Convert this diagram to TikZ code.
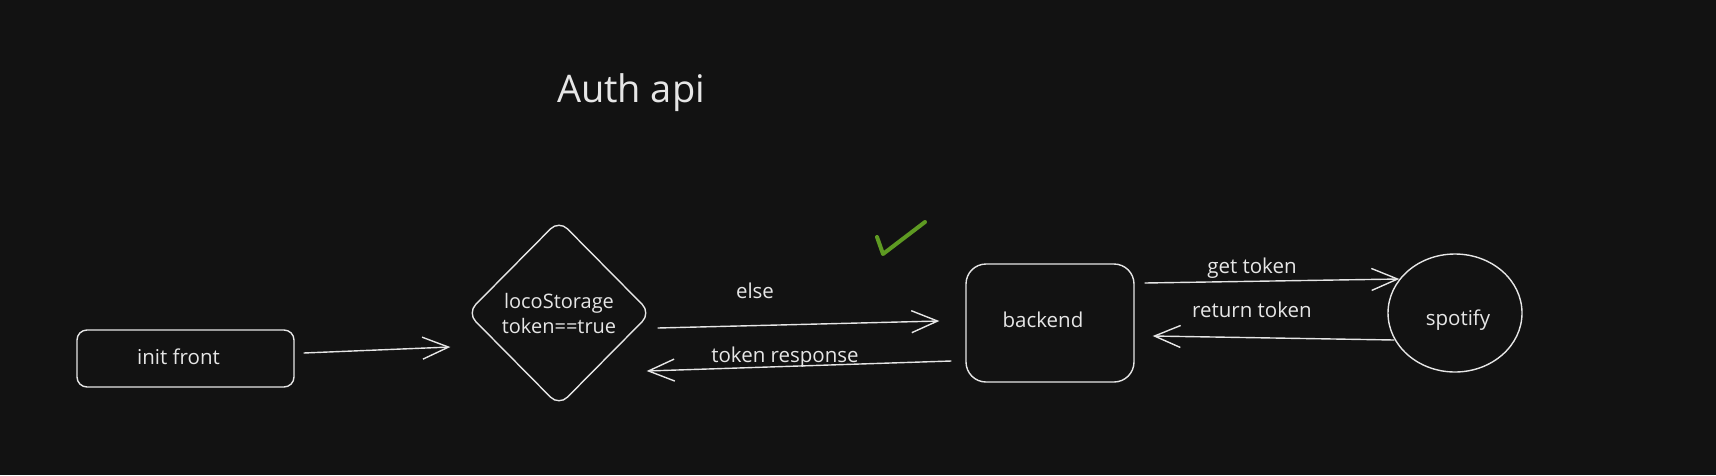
\documentclass[tikz,border=0pt]{standalone}
\usepackage{fontspec}
\setmainfont{Open Sans}
\usetikzlibrary{arrows.meta,shapes.geometric,calc}
\definecolor{bg}{HTML}{121212}
\definecolor{ink}{HTML}{E6E6E6}
\definecolor{tick}{HTML}{5E9A22}
\tikzset{
  boxnode/.style={draw=ink, line width=1.4pt, inner sep=0pt},
  lbl/.style={text=ink, font=\fontsize{20.5}{24}\selectfont, inner sep=0pt},
  arr/.style={draw=ink, line width=1.4pt, -{Straight Barb[length=26pt,width=22pt,line width=1.4pt]}},
}
\begin{document}
\begin{tikzpicture}[x=1pt,y=-1pt]
\fill[bg] (0,0) rectangle (1716,475);
\useasboundingbox (0,0) rectangle (1716,475);

\node[lbl, font=\fontsize{38}{44}\selectfont] (title) at (631,93) {Auth api};

\node[boxnode, rectangle, rounded corners=10pt, minimum width=217pt, minimum height=57pt] (init) at (185.5,358.5) {};
\node[lbl] (inittxt) at (178.5,357) {init front};
\node[boxnode, diamond, rounded corners=12pt, minimum width=184pt, minimum height=186pt] (dec) at (559,313) {};
\node[lbl, align=center, font=\fontsize{20}{25}\selectfont] (dectxt) at (559,313) {locoStorage\\token==true};
\node[boxnode, rectangle, rounded corners=20pt, minimum width=168pt, minimum height=118pt] (back) at (1050,323) {};
\node[lbl] (backtxt) at (1043,320) {backend};
\node[boxnode, ellipse, minimum width=134pt, minimum height=118pt] (spot) at (1455,313) {};
\node[lbl] (spottxt) at (1458,320) {spotify};

\draw[arr] ($(init.east)+(9,-5.5)$) -- ($(dec.west)+(-16,34)$);
\draw[arr] ($(dec.east)+(6,15)$) -- ($(back.west)+(-26,-2)$);
\draw[arr] ($(back.west)+(-14,38)$) -- ($(dec.east)+(-5,58)$);
\draw[arr] ($(back.east)+(10,-40)$) -- ($(spot.west)+(12,-34)$);
\draw[arr] ($(spot.west)+(7,27)$) -- ($(back.east)+(18,13)$);

\node[lbl] (elsel) at (755,291) {else};
\node[lbl] (trl) at (785,357) {token response};
\node[lbl] (gtl) at (1252,268) {get token};
\node[lbl] (rtl) at (1252,310) {return token};

\draw[tick, line width=4pt, line cap=round, line join=round] (877,237) -- (883,254) -- (925,222);
\end{tikzpicture}
\end{document}
